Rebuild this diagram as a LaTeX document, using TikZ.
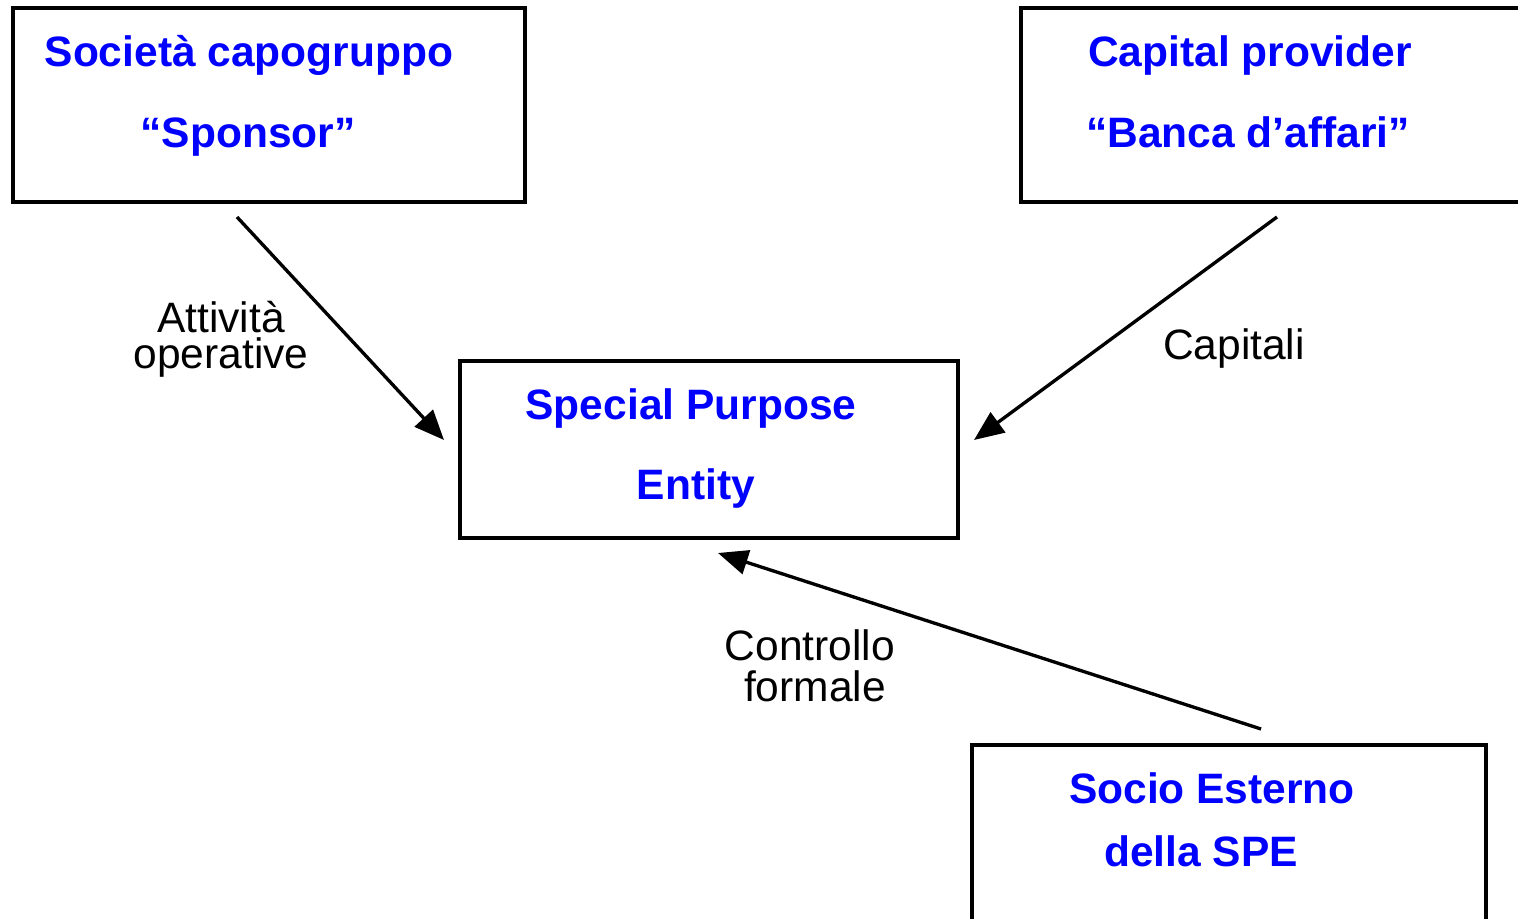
\documentclass[tikz,border=0pt]{standalone}
\usepackage{fontspec}
\setmainfont{Liberation Sans}
\usetikzlibrary{arrows.meta}
\definecolor{boxblue}{RGB}{0,0,255}
\begin{document}
\begin{tikzpicture}[x=0.02cm,y=-0.02cm,
  boxrect/.style={draw=black,line width=2.4pt},
  boxtext/.style={anchor=base,inner sep=0pt,text=boxblue,font=\fontsize{24.2}{28}\selectfont\bfseries},
  labeltext/.style={anchor=base,inner sep=0pt,text=black,font=\fontsize{24.2}{28}\selectfont},
  flow/.style={line width=1.9pt,-{Triangle[length=17pt,width=14pt]}}]
\useasboundingbox (0,0) rectangle (1518,919);
\clip (0,0) rectangle (1518,919);
\fill[white] (0,0) rectangle (1518,919);
% boxes
\draw[boxrect] (13,8) rectangle (525,202);
\draw[boxrect] (1021,8) rectangle (1540,202);
\draw[boxrect] (460,361) rectangle (958,538);
\draw[boxrect] (972,745) rectangle (1486,940);
% box texts
\node[boxtext] (sponsor1) at (249,67) {Società capogruppo};
\node[boxtext] (sponsor2) at (248,148) {“Sponsor”};
\node[boxtext] (bank1) at (1250,67) {Capital provider};
\node[boxtext] (bank2) at (1248,148) {“Banca d’affari”};
\node[boxtext] (spe1) at (691,419) {Special Purpose};
\node[boxtext] (spe2) at (696,499) {Entity};
\node[boxtext] (socio1) at (1212,803) {Socio Esterno};
\node[boxtext] (socio2) at (1201,866) {della SPE};
% connector ends
\coordinate (sA) at (237,217);
\coordinate (eA) at (444,440);
\coordinate (sB) at (1277,217);
\coordinate (eB) at (974,440);
\coordinate (sC) at (1261,729);
\coordinate (eC) at (718,553);
\draw[flow] (sA) -- (eA);
\draw[flow] (sB) -- (eB);
\draw[flow] (sC) -- (eC);
% labels
\node[labeltext] (la1) at (221,332) {Attività};
\node[labeltext] (la2) at (221,368) {operative};
\node[labeltext] (lb) at (1234,359) {Capitali};
\node[labeltext] (lc1) at (810,660) {Controllo};
\node[labeltext] (lc2) at (815,701) {formale};
\end{tikzpicture}
\end{document}
